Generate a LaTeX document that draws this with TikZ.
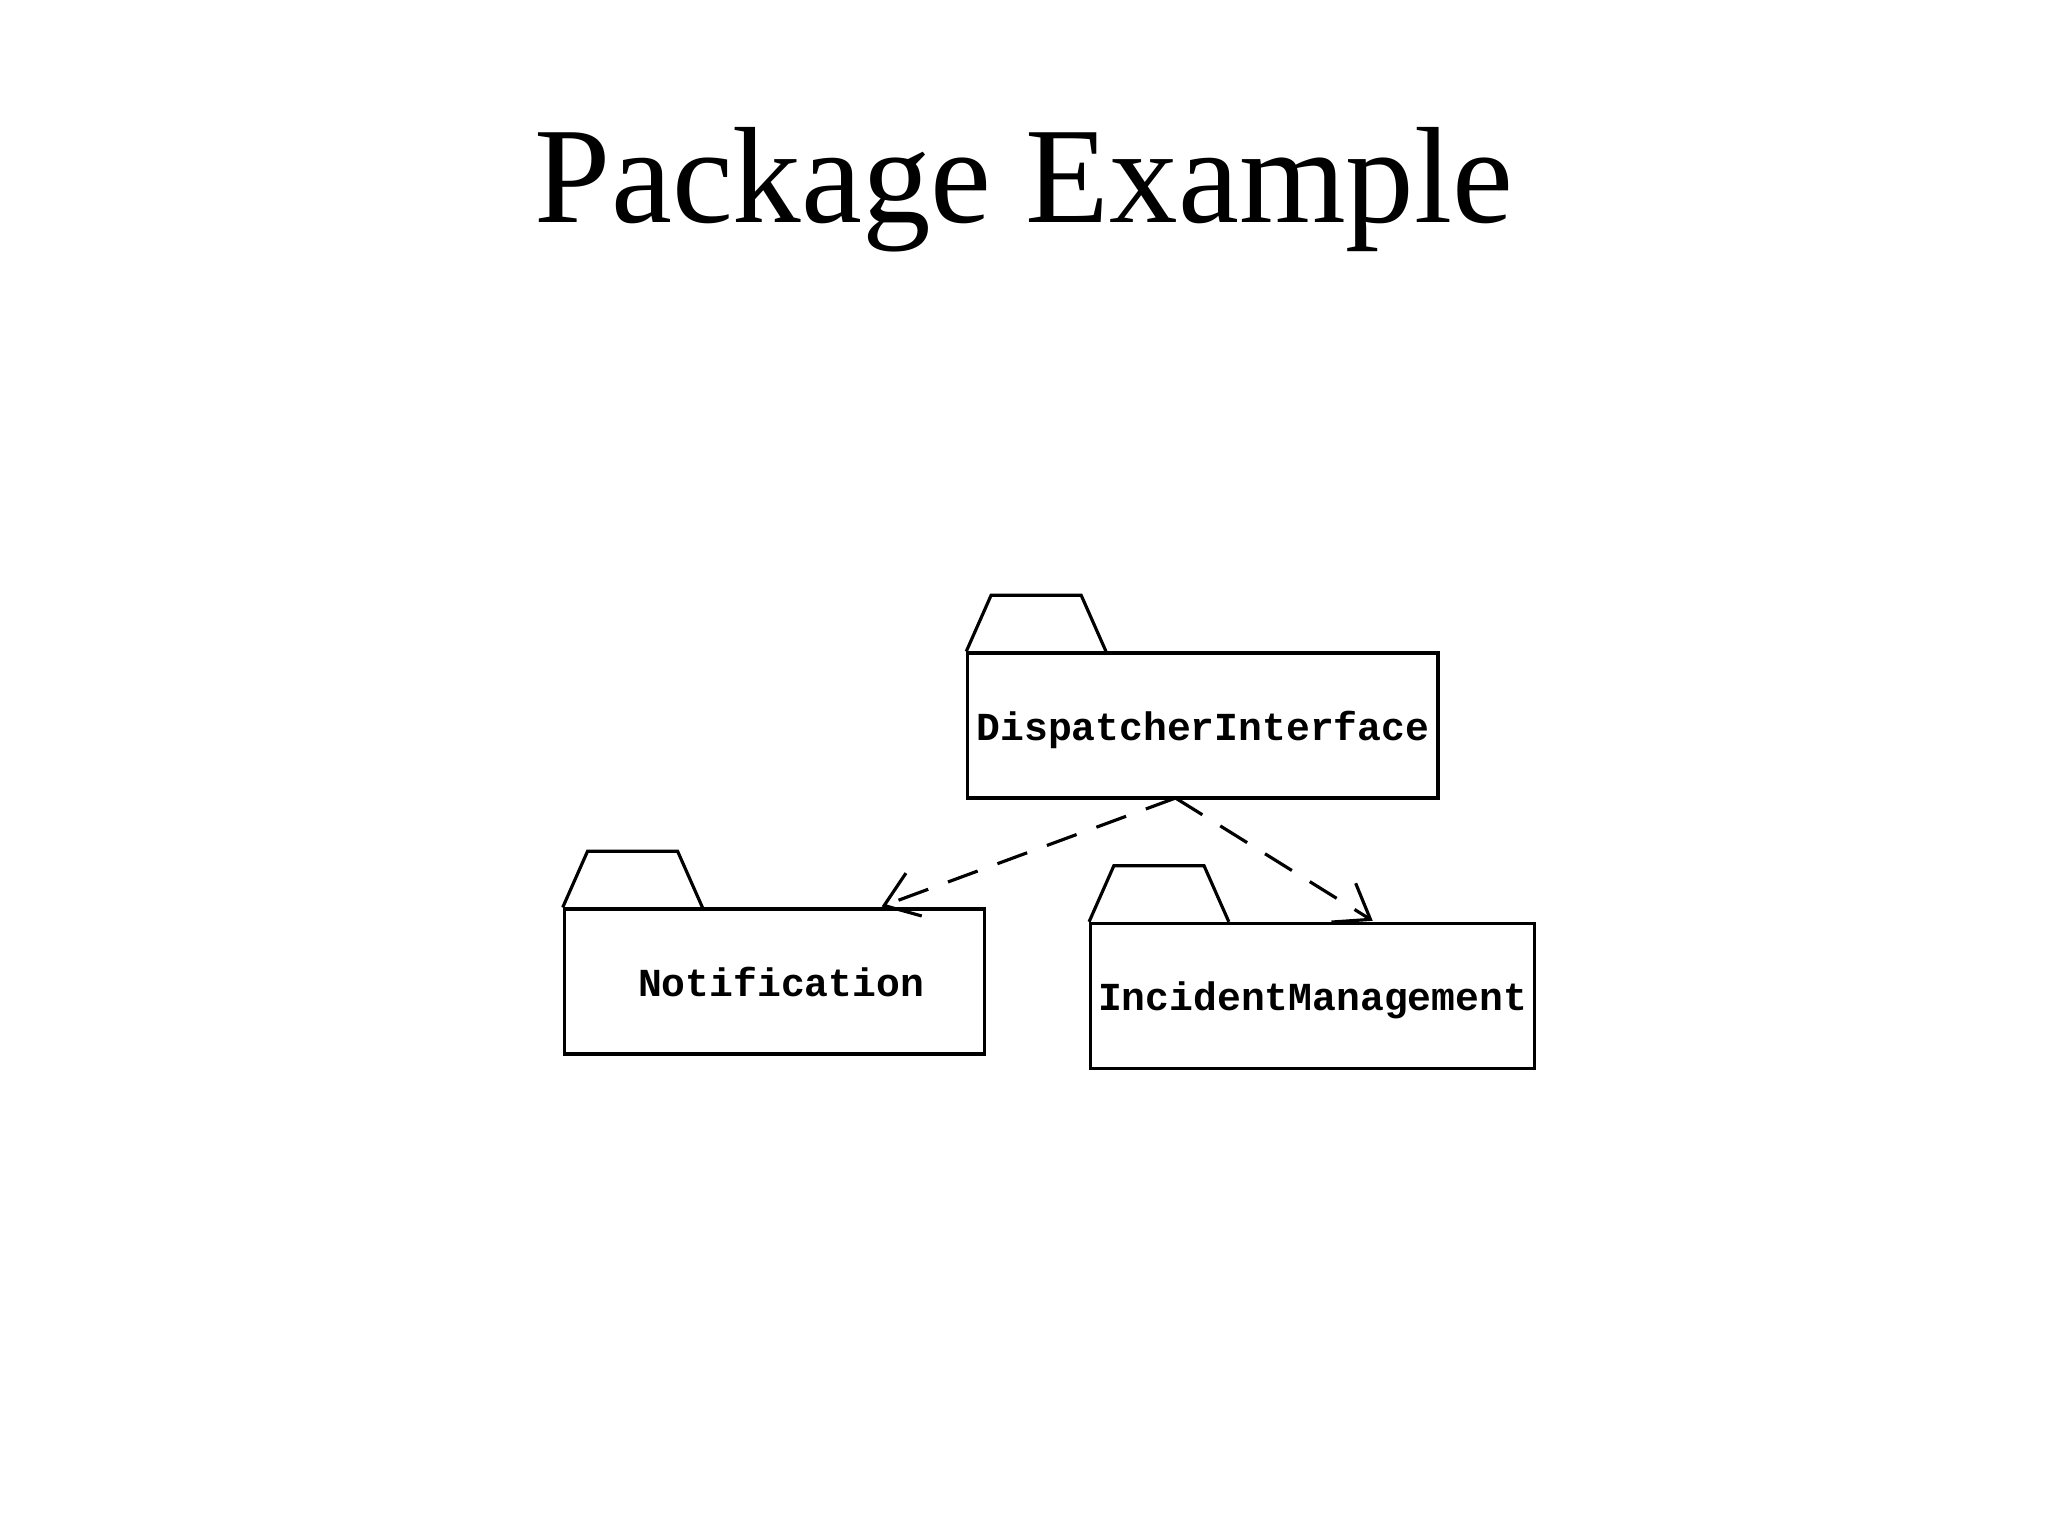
\documentclass[tikz,border=0pt]{standalone}
\usepackage{fontspec}
\setmainfont{Liberation Serif}
\setmonofont{Liberation Mono}
\usetikzlibrary{arrows.meta}
\begin{document}
\begin{tikzpicture}[x=0.01306cm,y=-0.01306cm,
  pkg/.style={draw,line width=0.9pt,minimum height=1.45cm,inner sep=0pt,font=\ttfamily\bfseries\fontsize{11.3}{13}\selectfont,text depth=-0.3cm},
  dep/.style={draw,line width=0.9pt,dash pattern=on 9pt off 6pt,-{Straight Barb[length=9pt,width=13pt,line width=0.9pt]}}]
\useasboundingbox (0,0) rectangle (1568,1176);
\node[font=\fontsize{39}{44}\selectfont] (title) at (784,145) {Package Example};
\node[pkg,minimum width=4.702cm] (disp) at (921,555.5) {DispatcherInterface};
\node[pkg,minimum width=4.205cm] (notif) at (593,751.5) {\hspace{0.13cm}Notification};
\node[pkg,minimum width=4.440cm] (inc) at (1005,762.5) {IncidentManagement};
\foreach \n in {disp,notif,inc}
  \draw[line width=0.9pt] (\n.north west) -- +(19,-43) -- +(88,-43) -- +(107,0);
\coordinate (src) at (900,611);
\draw[dep] (src) -- (675,694);
\draw[dep] (src) -- (1051,705);
\end{tikzpicture}
\end{document}
